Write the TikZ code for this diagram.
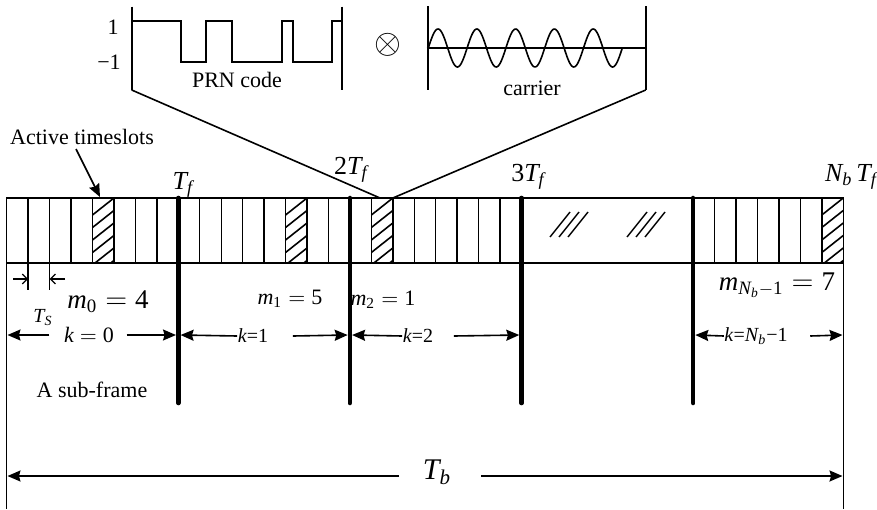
\documentclass[tikz,border=0pt]{standalone}
\usepackage{amsmath}
\usepackage{fontspec}
\setmainfont{Liberation Serif}
\usetikzlibrary{arrows.meta}
\newcommand\vi[1]{\textit{#1}}
\newcommand\fs[1]{\fontsize{#1}{#1}\selectfont}
\begin{document}
\begin{tikzpicture}[x=0.5pt,y=-0.5pt,line width=0.7pt,
  lbl/.style={inner sep=0pt,font=\fs{11}},
  tlbl/.style={inner sep=0pt,font=\fs{13}},
  wave/.style={line width=0.9pt},
  thickbar/.style={line width=2.3pt,line cap=round},
  karrow/.style={-{Stealth[length=6.5pt,width=5.5pt,inset=0.8pt]},line width=0.8pt},
  tsarrow/.style={-{Straight Barb[length=2.5pt,width=5pt]},line width=0.6pt}]
\useasboundingbox (0,0) rectangle (877,509);

% ---------- PRN code ----------
\draw[wave] (131.7,6.7) -- (131.7,90);
\draw[wave] (342.3,6.7) -- (342.3,90);
\draw[wave] (131.7,20.7) -| (181,62.3) -| (206,20.7) -| (232.3,62.3)
  -| (282.3,20.7) -| (293.3,62.3) -| (332.3,20.7) -- (342.3,20.7);
\node[lbl] (one) at (113,27) {1};
\node[lbl] (mone) at (109,62) {−1};
\node[lbl] (prn) at (237,80) {PRN code};

% ---------- multiplication ----------
\node[inner sep=0pt,font=\fs{17}] (otimes) at (387.5,45) {$\otimes$};

% ---------- carrier ----------
\draw[wave] (428.3,6) -- (428.3,90);
\draw[wave] (645.7,6) -- (645.7,90);
\draw[wave] (426.7,48) -- (645.7,48);
\draw[line width=0.8pt] plot[domain=0:5,samples=200,smooth] ({428.3+\x*38.8},{48-19*sin(\x*360)});
\node[lbl] (car) at (532,88) {carrier};

% ---------- zoom lines ----------
\coordinate (zl) at (380,198);
\coordinate (zr) at (392.9,198);
\draw[line width=0.8pt] (131.7,90) -- (zl);
\draw[line width=0.8pt] (645.7,90) -- (zr);

% ---------- strip ----------
\draw (6.7,198) rectangle (843.3,263);
\foreach \f in {0,8,16}
  \foreach \j in {1,...,7}
    \draw ({6.7+(\f+\j)*21.45},198) -- ({6.7+(\f+\j)*21.45},263);
\foreach \j in {33,...,38}
  \draw ({6.7+\j*21.45},198) -- ({6.7+\j*21.45},263);
% hatched slots
\foreach \s in {4,13,17,38}{
  \begin{scope}
    \clip ({6.7+\s*21.45},198) rectangle ({6.7+(\s+1)*21.45},263);
    \foreach \k in {0,...,6}
      \draw[line width=0.8pt] ({6.7+\s*21.45},{198+\k*12.5+17}) -- ++(21.45,-17);
  \end{scope}}
% break marks
\foreach \b in {550,559,568,627,636,645}
  \draw (\b,237) -- ++(20,-25);

% frame boundaries
\foreach \i in {1,2,3,4}
  \draw[thickbar] ({6.7+8*\i*21.45},198) -- ({6.7+8*\i*21.45},403);
% outer borders
\draw (6.7,263) -- (6.7,509);
\draw (843.3,263) -- (843.3,509);

% ---------- labels above strip ----------
\node[tlbl] (tf1) at (183,185) {$\vi{T}_{\vi{f}}$};
\node[tlbl] (tf2) at (351,170) {2$\vi{T}_{\vi{f}}$};
\node[tlbl] (tf3) at (528,177) {3$\vi{T}_{\vi{f}}$};
\node[tlbl] (tfN) at (851,177) {$\vi{N}_{\vi{b}}\,\vi{T}_{\vi{f}}$};

\node[lbl] (act) at (82,137) {Active timeslots};
\coordinate (actfoot) at (76,149);
\coordinate (slotA) at (100,197);
\draw[karrow] (actfoot) -- (slotA);

% ---------- T_S ----------
\draw (28.15,263) -- (28.15,290);
\draw (49.6,263) -- (49.6,290);
\coordinate (tsa) at (28.15,279);
\coordinate (tsb) at (49.6,279);
\draw[tsarrow] (13,279) -- (tsa);
\draw[tsarrow] (65,279) -- (tsb);
\node[inner sep=0pt,font=\fs{10}] (ts) at (43,318) {$\vi{T}_{\vi{S}}$};

% ---------- m labels ----------
\node[inner sep=0pt,font=\fs{13.5}] (m0) at (108,302) {$\vi{m}_{\textrm{0}}=\textrm{4}$};
\node[inner sep=0pt,font=\fs{11}] (m1) at (290,299) {$\vi{m}_{\textrm{1}}=\textrm{5}$};
\node[inner sep=0pt,font=\fs{11}] (m2) at (383,300) {$\vi{m}_{\textrm{2}}=\textrm{1}$};
\node[inner sep=0pt,font=\fs{13.5}] (mN) at (777,285) {$\vi{m}_{\vi{N}_{\vi{b}}-\textrm{1}}=\textrm{7}$};

% ---------- k arrows ----------
\coordinate (L0) at (7.5,335);   \coordinate (R0) at (176,335);
\coordinate (L1) at (180.6,335); \coordinate (R1) at (347.7,335);
\coordinate (L2) at (352.1,335); \coordinate (R2) at (519.3,335);
\coordinate (L4) at (695.3,335); \coordinate (R4) at (842.5,335);

\node[inner sep=0pt,font=\fs{11}] (k0) at (89,335) {$\vi{k} = \textrm{0}$};
\draw[karrow] ([xshift=-7pt]k0.west) -- (L0);
\draw[karrow] ([xshift=6pt]k0.east) -- (R0);

\node[inner sep=0pt,font=\fs{10}] (k1) at (253,336) {\textit{k}=1};
\draw[karrow] (k1.west) -- (L1);
\draw[karrow] ([xshift=12pt]k1.east) -- (R1);

\node[inner sep=0pt,font=\fs{10}] (k2) at (418,336) {\textit{k}=2};
\draw[karrow] (k2.west) -- (L2);
\draw[karrow] ([xshift=10pt]k2.east) -- (R2);

\node[inner sep=0pt,font=\fs{10}] (kN) at (756,336) {\textit{k}=$\vi{N}_{\vi{b}}$−1};
\draw[karrow] (kN.west) -- (L4);
\draw[karrow] ([xshift=11pt]kN.east) -- (R4);

% ---------- sub-frame ----------
\node[lbl] (sub) at (92,390) {A sub-frame};

% ---------- T_b ----------
\node[inner sep=0pt,font=\fs{15}] (tb) at (437,472) {$\vi{T}_{\vi{b}}$};
\coordinate (TbL) at (7.5,476);
\coordinate (TbR) at (842.5,476);
\coordinate (TbA) at (399,476);
\coordinate (TbB) at (481,476);
\draw[karrow] (TbA) -- (TbL);
\draw[karrow] (TbB) -- (TbR);
\end{tikzpicture}
\end{document}
